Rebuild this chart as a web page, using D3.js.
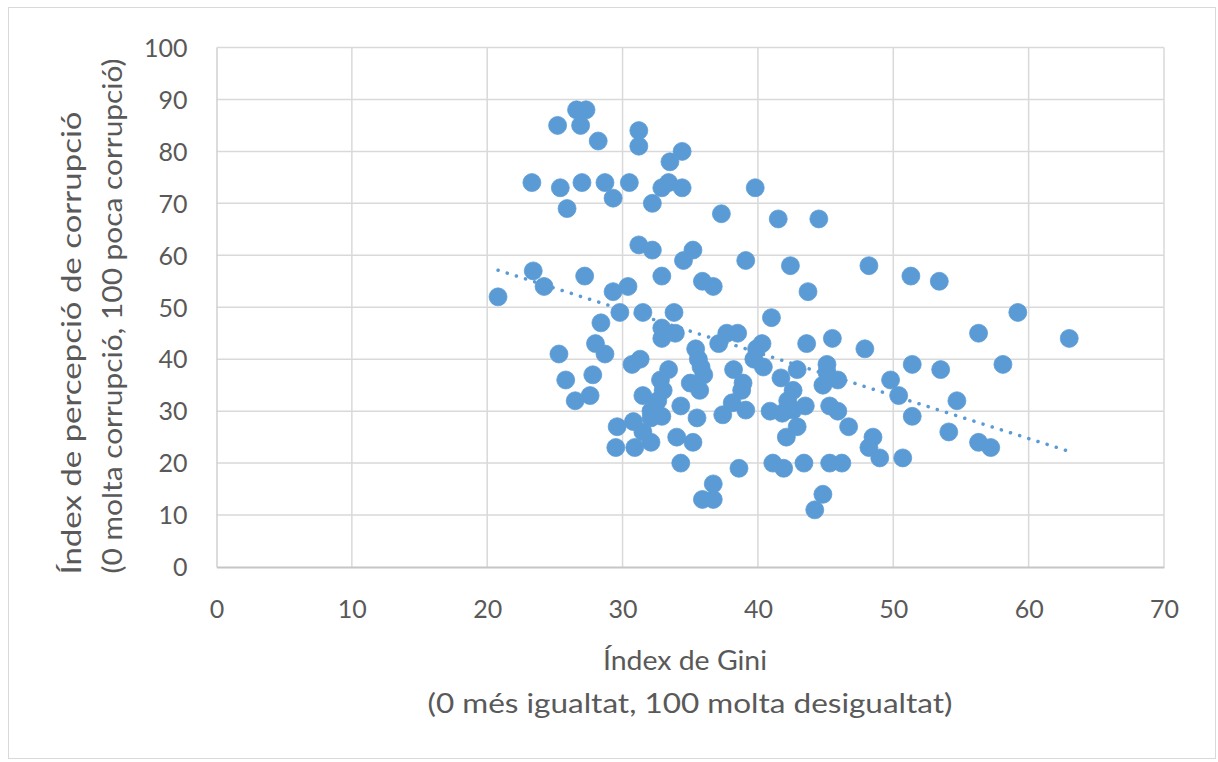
<!DOCTYPE html>
<html><head><meta charset="utf-8">
<script src="https://cdn.jsdelivr.net/npm/d3@7/dist/d3.min.js"></script>
<style>
html,body{margin:0;padding:0;background:#fff;}
svg{display:block;}
text{font-family:Lato,"Open Sans",sans-serif;fill:#595959;}
</style></head>
<body>
<svg id="chart" width="1218" height="762"></svg>
<script>
// ---- data ----
const giniIndex = [
25.2,26.6,27.3,26.9,28.2,23.3,25.4,27.0,25.9,28.7,29.3,30.5,31.2,31.2,33.5,34.4,32.9,33.4,34.4,32.2,
37.3,39.8,41.5,44.5,31.2,32.2,34.5,35.2,23.4,24.2,27.2,20.8,29.3,30.4,32.9,35.9,36.7,39.1,42.4,48.2,
51.3,53.4,43.7,59.2,56.3,63.0,41.0,28.4,29.8,31.5,33.8,32.9,33.9,32.9,35.4,35.6,35.8,28.0,28.7,25.3,
31.3,30.7,37.7,38.5,37.1,40.3,39.9,39.7,40.4,43.6,45.5,47.9,25.8,27.8,33.4,32.8,36.0,35.0,35.7,26.5,
27.6,31.5,33.0,32.6,34.3,32.1,35.5,29.6,30.8,32.1,32.9,31.5,29.5,30.9,32.1,34.0,35.2,34.3,38.2,41.7,
42.9,38.9,38.8,42.6,42.2,38.1,39.1,37.4,40.9,41.8,42.6,43.5,45.1,45.1,44.8,45.9,45.3,45.9,42.9,46.7,
42.1,48.5,48.2,49.0,50.7,38.6,41.1,41.9,43.4,45.3,46.2,36.7,35.9,36.7,44.8,44.2,49.8,50.4,51.4,53.5,
58.1,54.7,51.4,54.1,56.3,57.2
];
const corruptionIndex = [
85,88,88,85,82,74,73,74,69,74,71,74,84,81,78,80,73,74,73,70,
68,73,67,67,62,61,59,61,57,54,56,52,53,54,56,55,54,59,58,58,
56,55,53,49,45,44,48,47,49,49,49,46,45,44,42,40,38.5,43,41,41,
40,39,45,45,43,43,42,40,38.5,43,44,42,36,37,38,36,37,35.4,34,32,
33,33,34,32,31,30,28.7,27,28,28.7,29,26,23,23,24,25,24,20,38,36.4,
38,35.4,34,34,32,31.6,30.2,29.3,30,29.6,30.2,31,39,37.5,35,36,31,30,27,27,
25,25,23,21,21,19,20,19,20,20,20,16,13,13,14,11,36,33,39,38,
39,32,29,26,24,23
];
const xTicks = [0,10,20,30,40,50,60,70];
const yTicks = [0,10,20,30,40,50,60,70,80,90,100];
const xTitle = ["Índex de Gini", "(0 més igualtat, 100 molta desigualtat)"];
const yTitle = ["Índex de percepció de corrupció", "(0 molta corrupció, 100 poca corrupció)"];

const points = giniIndex.map((g,i)=>({x:g, y:corruptionIndex[i]}));

const svg = d3.select("#chart");
const x = d3.scaleLinear().domain([0,70]).range([216.5,1164]);
const y = d3.scaleLinear().domain([0,100]).range([567,47.5]);

// chart border
svg.append("rect").attr("x",8.5).attr("y",7.5).attr("width",1207).attr("height",751)
  .attr("fill","#fff").attr("stroke","#d9d9d9").attr("stroke-width",1);

// gridlines
const grid = svg.append("g");
grid.selectAll("line.v").data(xTicks.filter(d=>d>0)).join("line")
  .attr("x1",d=>x(d)).attr("x2",d=>x(d)).attr("y1",y(0)).attr("y2",y(100))
  .attr("stroke","#d9d9d9").attr("stroke-width",1.5);
grid.selectAll("line.h").data(yTicks.filter(d=>d>0)).join("line")
  .attr("x1",x(0)).attr("x2",x(70)).attr("y1",d=>y(d)).attr("y2",d=>y(d))
  .attr("stroke","#d9d9d9").attr("stroke-width",1.5);

// axes via d3
const xAxis = d3.axisBottom(x).tickValues(xTicks).tickSize(0).tickPadding(0).tickFormat(d3.format("d"));
const yAxis = d3.axisLeft(y).tickValues(yTicks).tickSize(0).tickPadding(0).tickFormat(d3.format("d"));
const gx = svg.append("g").attr("transform",`translate(0,${y(0)})`).call(xAxis);
const gy = svg.append("g").attr("transform",`translate(${x(0)},0)`).call(yAxis);
gx.select(".domain").attr("stroke","#c6c6c6").attr("stroke-width",2);
gy.select(".domain").attr("stroke","#d0d0d0").attr("stroke-width",1.5);
gx.selectAll(".tick text").attr("y",0).attr("dy",null).attr("dominant-baseline","auto")
  .attr("transform","translate(0,51)").style("font-size","25px").style("fill","#595959").style("font-family","Lato");
gy.selectAll(".tick text").attr("x",-29).attr("dy","0.35em")
  .style("font-size","25px").style("fill","#595959").style("font-family","Lato");

// trendline (least squares over data, across data x-range)
const mx = d3.mean(points,d=>d.x), my = d3.mean(points,d=>d.y);
const sxy = d3.sum(points,d=>(d.x-mx)*(d.y-my)), sxx = d3.sum(points,d=>(d.x-mx)**2);
const slope = sxy/sxx, icpt = my - slope*mx;
const [xmin,xmax] = d3.extent(points,d=>d.x);
svg.append("line")
  .attr("x1",x(xmin)).attr("y1",y(icpt+slope*xmin))
  .attr("x2",x(xmax)).attr("y2",y(icpt+slope*xmax))
  .attr("stroke","#5b9bd5").attr("stroke-width",3.5)
  .attr("stroke-linecap","round").attr("stroke-dasharray","0.1 9.5");

// points
svg.append("g").selectAll("circle").data(points).join("circle")
  .attr("cx",d=>x(d.x)).attr("cy",d=>y(d.y)).attr("r",9)
  .attr("fill","#5b9bd5").attr("stroke","#5b9bd5").attr("stroke-width",0.75);

// titles
function fitText(sel, len){ sel.attr("textLength",len).attr("lengthAdjust","spacingAndGlyphs"); }
svg.append("text").attr("x",685).attr("y",670).attr("text-anchor","middle")
  .style("font-size","26px").text(xTitle[0]).call(fitText,164);
svg.append("text").attr("x",690).attr("y",713).attr("text-anchor","middle")
  .style("font-size","26px").text(xTitle[1]).call(fitText,525);
svg.append("text").attr("transform","translate(81,343) rotate(-90)").attr("text-anchor","middle")
  .style("font-size","26px").text(yTitle[0]).call(fitText,463);
svg.append("text").attr("transform","translate(122,316) rotate(-90)").attr("text-anchor","middle")
  .style("font-size","26px").text(yTitle[1]).call(fitText,515);
</script>
</body></html>
